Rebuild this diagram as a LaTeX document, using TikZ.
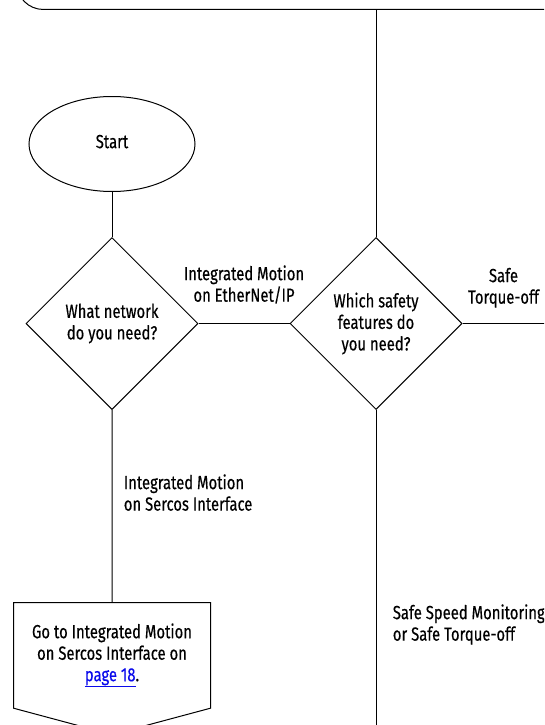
\documentclass[tikz,border=0pt]{standalone}
\usepackage{fontspec}
\setmainfont[FakeStretch=0.78,FakeBold=0.4]{Fira Sans}
\usepackage{xcolor}
\definecolor{linkblue}{RGB}{10,10,235}
\usetikzlibrary{positioning,shapes.geometric,shapes.symbols}

\begin{document}
\begin{tikzpicture}[x=1pt,y=-1pt,font=\fontsize{19}{21.5}\selectfont,line width=1pt]
  \tikzstyle{decision} = [draw, diamond, aspect=1, minimum size=172pt, inner sep=0pt, align=center]
  \tikzstyle{branch} = [align=left, anchor=west]

  \clip (0,0) rectangle (544,725);
  \node [draw, rectangle, rounded corners=27pt, anchor=south west, minimum width=620pt, minimum height=80pt] (header) at (16,10) {};
  \node [draw, ellipse, minimum width=166pt, minimum height=95pt] (start) at (112,144) {\raisebox{5pt}{Start}};
  \node [decision, below = 45pt of start] (network) {What network\\do you need?};
  \node [decision, right = 91pt of network] (safety) {Which safety\\features do\\you need?};
  \node [draw, signal, signal to=south, signal from=nowhere, signal pointer angle=150, minimum width=197pt, minimum height=128pt, align=center, below = 192pt of network] (sercos) {Go to Integrated Motion\\on Sercos Interface on\\\textcolor{linkblue}{\underline{page 18}}.};
  \coordinate [right = 82pt of safety] (safetyout);
  \coordinate [below = 330pt of safety] (speedout);

  \draw (start) -- (network);
  \draw (network) -- node[above=16pt, align=center] {Integrated Motion\\on EtherNet/IP} (safety);
  \draw (header.south -| safety.north) -- (safety);
  \draw (safety) -- node[above=12pt, align=center] {Safe\\Torque-off} (safetyout);
  \draw (network) -- node[branch, pos=0.43, xshift=8pt] {Integrated Motion\\on Sercos Interface} (sercos);
  \draw (safety) -- node[branch, pos=0.65, xshift=13pt] {Safe Speed Monitoring\\or Safe Torque-off} (speedout);
\end{tikzpicture}
\end{document}
